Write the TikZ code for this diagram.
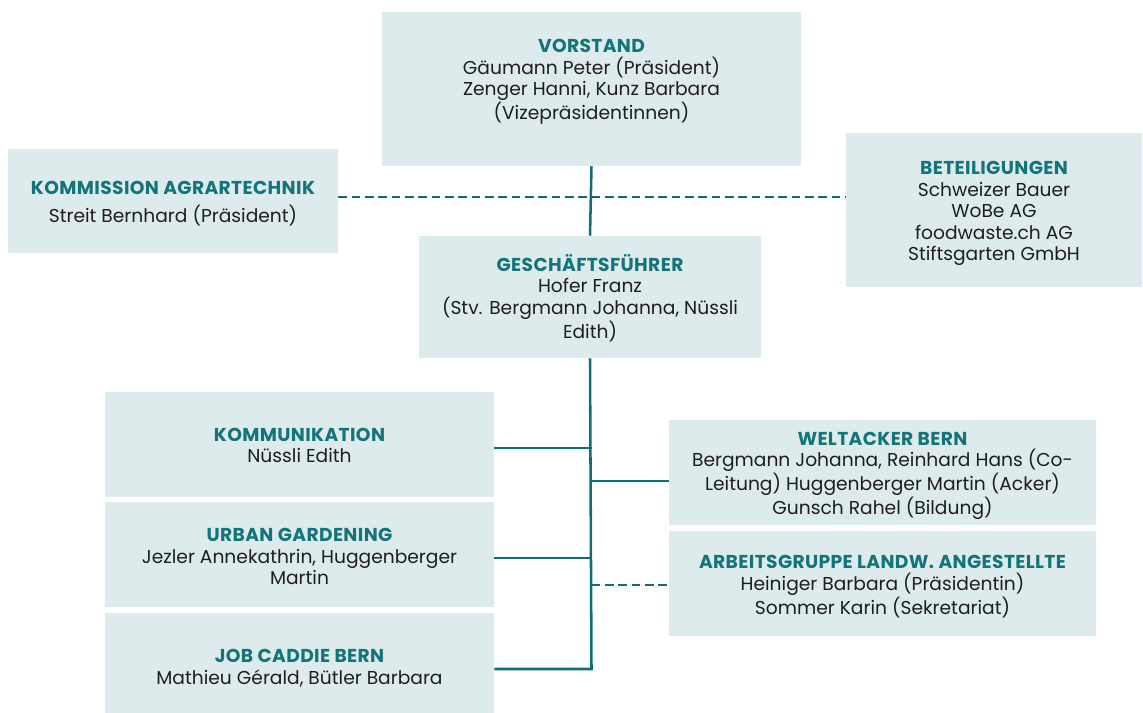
\documentclass[tikz,border=0pt]{standalone}
\usepackage{fontspec}
\setmainfont{Poppins}
\definecolor{boxfill}{HTML}{DEEBEC}
\definecolor{linecol}{HTML}{0E6E78}
\definecolor{titlecol}{HTML}{137479}
\definecolor{bodycol}{HTML}{1E1E1E}
% box title in bold teal capitals, slightly tracked
\newcommand\orgtitle[1]{{\bfseries\addfontfeatures{LetterSpace=2}\color{titlecol}#1}}
% box from corner (x1,y1) to (x2,y2) in pixel units, its text moved down by dy pixels
\newcommand\orgbox[7]{%
  \node[box, minimum width={(#4-#2)*0.75pt}, minimum height={(#5-#3)*0.75pt}]
    (#1) at ({(#2+#4)/2},{(#3+#5)/2}) {};
  \node[boxtext] (#1text) at ($(#1.center)+(0,#6)$) {#7};}
\usetikzlibrary{calc}
\begin{document}
\begin{tikzpicture}[x=0.75pt,y=-0.75pt,
  box/.style={rectangle, fill=boxfill, draw=none, inner sep=0pt},
  boxtext/.style={inner sep=0pt, align=center, text=bodycol,
    font=\fontsize{14}{16.2}\selectfont},
  solidlink/.style={draw=linecol, line width=1.9pt},
  dashlink/.style={draw=linecol, line width=2pt, dash pattern=on 6.5pt off 3.5pt}]
\useasboundingbox (0,0) rectangle (1143,713);

% board
\orgbox{vorstand}{382}{12}{801}{166}{-7}
  {\orgtitle{VORSTAND}\\Gäumann Peter (Präsident)\\Zenger Hanni, Kunz Barbara\\(Vizepräsidentinnen)}

% side bodies
\orgbox{kommission}{8}{149}{338}{253}{2.5}
  {\orgtitle{KOMMISSION AGRARTECHNIK}\\[4.5pt]Streit Bernhard (Präsident)}
\orgbox{beteiligungen}{846}{133}{1142}{287}{3.5}
  {\orgtitle{BETEILIGUNGEN}\\Schweizer Bauer\\WoBe AG\\foodwaste.ch AG\\Stiftsgarten GmbH}

% management
\orgbox{gf}{419}{236}{761}{358}{1}
  {\orgtitle{GESCHÄFTSFÜHRER}\\Hofer Franz\\(Stv. Bergmann Johanna, Nüssli\\Edith)}

% left column
\orgbox{kommunikation}{105}{392}{494}{497}{1}
  {\orgtitle{KOMMUNIKATION}\\Nüssli Edith}
\orgbox{urban}{105}{502}{494}{607}{2}
  {\orgtitle{URBAN GARDENING}\\Jezler Annekathrin, Huggenberger\\Martin}
\orgbox{jobcaddie}{105}{613}{494}{713}{5}
  {\orgtitle{JOB CADDIE BERN}\\Mathieu Gérald, Bütler Barbara}

% right column
\orgbox{weltacker}{669}{420}{1096}{525}{3}
  {\orgtitle{WELTACKER BERN}\\Bergmann Johanna, Reinhard Hans (Co-\\Leitung) Huggenberger Martin (Acker)\\Gunsch Rahel (Bildung)}
\orgbox{ag}{669}{531}{1096}{636}{3}
  {\orgtitle{ARBEITSGRUPPE LANDW. ANGESTELLTE}\\Heiniger Barbara (Präsidentin)\\Sommer Karin (Sekretariat)}

% junctions on the trunk
\coordinate (dashy) at (591.5,197);
\coordinate (jkom) at (591.5,448);
\coordinate (jwelt) at (591.5,481);
\coordinate (jurban) at (591.5,558);
\coordinate (jag) at (591.5,585);
\coordinate (jjob) at (591.5,669);

% connectors
\draw[dashlink] (kommission.east |- dashy) -- (beteiligungen.west |- dashy);
\draw[solidlink] (vorstand.south) -- (gf.north);
\draw[solidlink] (gf.south) -- (jjob) -- (jobcaddie.east |- jjob);
\draw[solidlink] (jkom) -- (kommunikation.east |- jkom);
\draw[solidlink] (jwelt) -- (weltacker.west |- jwelt);
\draw[solidlink] (jurban) -- (urban.east |- jurban);
\draw[dashlink] (jag) -- (ag.west |- jag);
\end{tikzpicture}
\end{document}
